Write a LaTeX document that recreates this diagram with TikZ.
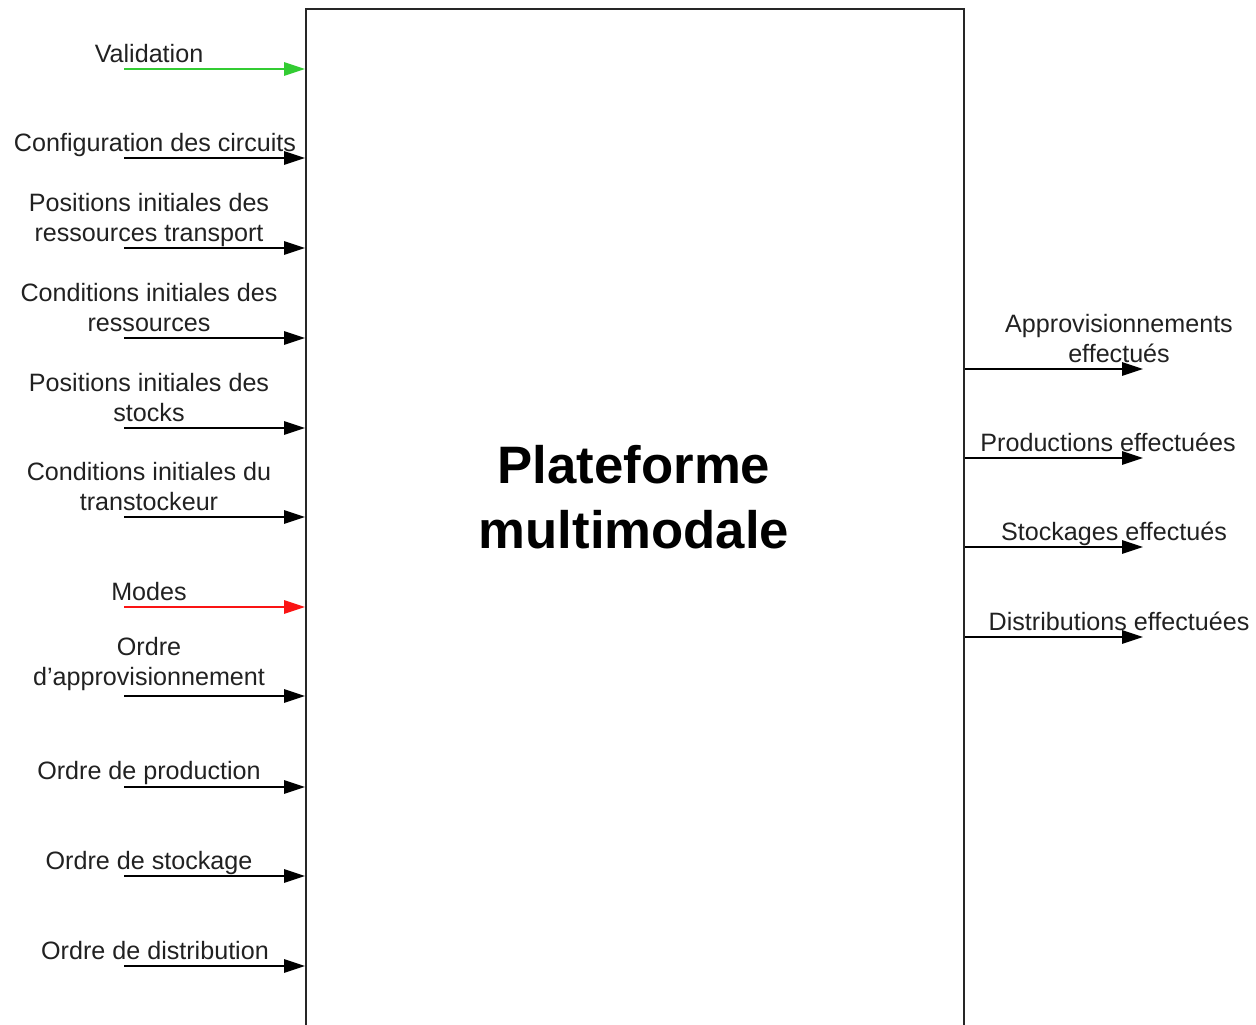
\documentclass[tikz,border=0pt]{standalone}
\usepackage{fontspec}
\setmainfont{Liberation Sans}
\usetikzlibrary{positioning,calc,arrows.meta}
\definecolor{valgreen}{RGB}{51,204,51}
\definecolor{modered}{RGB}{250,20,20}
\tikzset{
  plat box/.style={rectangle, draw=black!85, line width=1.1pt, minimum width=13.16cm, minimum height=22cm, anchor=north west, inner sep=0pt},
  plat title/.style={align=center, font=\bfseries\fontsize{30}{36.8}\selectfont},
  plat label/.style={align=center, anchor=south, inner sep=0pt, font=\fontsize{14.3}{17}\selectfont, text=black!87, execute at end node=\strut},
  plat flow/.style={line width=0.85pt, -{Triangle[length=0.42cm, width=0.27cm]}}
}

\begin{document}
\begin{tikzpicture}[x=0.02cm, y=-0.02cm]
    \useasboundingbox (0,0) rectangle (1256,1024);
    \clip (0,0) rectangle (1256,1024);

    % Platform
    \node [plat box] (plat) at (305,8) {};
    \node [plat title] (title) at (634,497) {Plateforme\\multimodale};

    % Inputs
    \coordinate (in1) at (124,69);
    \coordinate (in2) at (124,158);
    \coordinate (in3) at (124,248);
    \coordinate (in4) at (124,338);
    \coordinate (in5) at (124,428);
    \coordinate (in6) at (124,517);
    \coordinate (in7) at (124,607);
    \coordinate (in8) at (124,696);
    \coordinate (in9) at (124,787);
    \coordinate (in10) at (124,876);
    \coordinate (in11) at (124,966);

    \node [plat label] (valid) at (149,72) {Validation};
    \node [plat label] (config) at (155,161) {Configuration des circuits};
    \node [plat label] (postrans) at (149,251) {Positions initiales des\\ressources transport};
    \node [plat label] (condres) at (149,341) {Conditions initiales des\\ressources};
    \node [plat label] (posstock) at (149,431) {Positions initiales des\\stocks};
    \node [plat label] (condtrans) at (149,520) {Conditions initiales du\\transtockeur};
    \node [plat label] (modes) at (149,610) {Modes};
    \node [plat label] (ordappro) at (149,695) {Ordre\\d’approvisionnement};
    \node [plat label] (ordprod) at (149,789) {Ordre de production};
    \node [plat label] (ordstock) at (149,879) {Ordre de stockage};
    \node [plat label] (orddist) at (155,969) {Ordre de distribution};

    \draw [plat flow, valgreen] (in1) -- (in1 -| plat.west);
    \draw [plat flow] (in2) -- (in2 -| plat.west);
    \draw [plat flow] (in3) -- (in3 -| plat.west);
    \draw [plat flow] (in4) -- (in4 -| plat.west);
    \draw [plat flow] (in5) -- (in5 -| plat.west);
    \draw [plat flow] (in6) -- (in6 -| plat.west);
    \draw [plat flow, modered] (in7) -- (in7 -| plat.west);
    \draw [plat flow] (in8) -- (in8 -| plat.west);
    \draw [plat flow] (in9) -- (in9 -| plat.west);
    \draw [plat flow] (in10) -- (in10 -| plat.west);
    \draw [plat flow] (in11) -- (in11 -| plat.west);

    % Outputs
    \coordinate (out1) at (1143,369);
    \coordinate (out2) at (1143,458);
    \coordinate (out3) at (1143,547);
    \coordinate (out4) at (1143,637);

    \node [plat label] (appro) at (1119,372) {Approvisionnements\\effectués};
    \node [plat label] (prod) at (1108,461) {Productions effectuées};
    \node [plat label] (stock) at (1114,550) {Stockages effectués};
    \node [plat label] (dist) at (1119,640) {Distributions effectuées};

    \draw [plat flow] (out1 -| plat.east) -- (out1);
    \draw [plat flow] (out2 -| plat.east) -- (out2);
    \draw [plat flow] (out3 -| plat.east) -- (out3);
    \draw [plat flow] (out4 -| plat.east) -- (out4);
\end{tikzpicture}
\end{document}
